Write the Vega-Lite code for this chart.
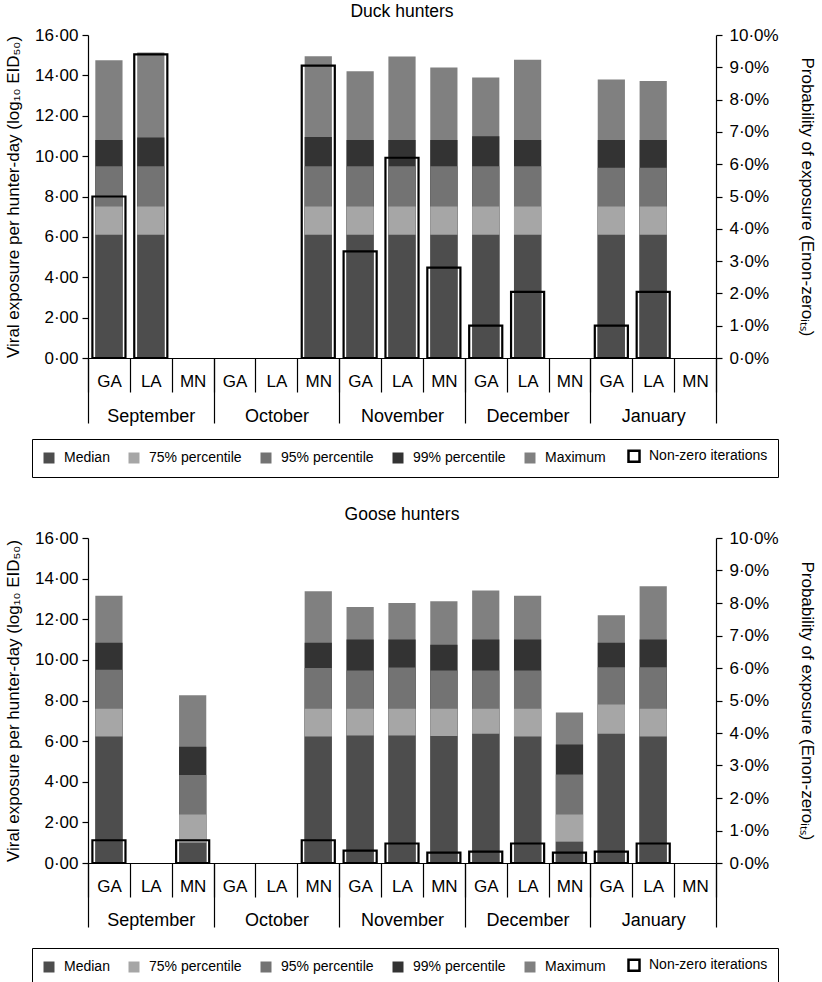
{
  "$schema": "https://vega.github.io/schema/vega-lite/v6.json",
  "padding": {"left": 4, "top": 2, "right": 4, "bottom": 0},
  "config": {
    "font": "Liberation Sans",
    "view": {"stroke": null},
    "axis": {"domainColor": "black", "tickColor": "black", "labelColor": "black", "titleColor": "black", "grid": false, "titleFontWeight": "normal", "domainWidth": 1.2, "tickWidth": 1.2},
    "title": {"fontWeight": "normal", "fontSize": 17.5, "color": "black"},
    "concat": {"spacing": 27}
  },
  "datasets": {
    "months": [{"month": "September"}, {"month": "October"}, {"month": "November"}, {"month": "December"}, {"month": "January"}],
    "duck": [
      {"slot": "September|GA", "Median": 6.1, "75% percentile": 7.5, "95% percentile": 9.5, "99% percentile": 10.8, "Maximum": 14.75, "nz": 5.0},
      {"slot": "September|LA", "Median": 6.1, "75% percentile": 7.5, "95% percentile": 9.5, "99% percentile": 10.92, "Maximum": 15.13, "nz": 9.4},
      {"slot": "October|MN", "Median": 6.1, "75% percentile": 7.5, "95% percentile": 9.5, "99% percentile": 10.95, "Maximum": 14.95, "nz": 9.05},
      {"slot": "November|GA", "Median": 6.1, "75% percentile": 7.5, "95% percentile": 9.5, "99% percentile": 10.8, "Maximum": 14.2, "nz": 3.3},
      {"slot": "November|LA", "Median": 6.1, "75% percentile": 7.5, "95% percentile": 9.5, "99% percentile": 10.8, "Maximum": 14.93, "nz": 6.2},
      {"slot": "November|MN", "Median": 6.1, "75% percentile": 7.5, "95% percentile": 9.5, "99% percentile": 10.8, "Maximum": 14.39, "nz": 2.8},
      {"slot": "December|GA", "Median": 6.1, "75% percentile": 7.5, "95% percentile": 9.5, "99% percentile": 10.98, "Maximum": 13.9, "nz": 1.0},
      {"slot": "December|LA", "Median": 6.1, "75% percentile": 7.5, "95% percentile": 9.5, "99% percentile": 10.8, "Maximum": 14.77, "nz": 2.05},
      {"slot": "January|GA", "Median": 6.1, "75% percentile": 7.5, "95% percentile": 9.42, "99% percentile": 10.8, "Maximum": 13.8, "nz": 1.0},
      {"slot": "January|LA", "Median": 6.1, "75% percentile": 7.5, "95% percentile": 9.42, "99% percentile": 10.8, "Maximum": 13.72, "nz": 2.05}
    ],
    "goose": [
      {"slot": "September|GA", "Median": 6.23, "75% percentile": 7.59, "95% percentile": 9.52, "99% percentile": 10.84, "Maximum": 13.16, "nz": 0.7},
      {"slot": "September|MN", "Median": 1.0, "75% percentile": 2.39, "95% percentile": 4.33, "99% percentile": 5.72, "Maximum": 8.26, "nz": 0.7},
      {"slot": "October|MN", "Median": 6.23, "75% percentile": 7.59, "95% percentile": 9.6, "99% percentile": 10.84, "Maximum": 13.38, "nz": 0.7},
      {"slot": "November|GA", "Median": 6.28, "75% percentile": 7.59, "95% percentile": 9.48, "99% percentile": 11.0, "Maximum": 12.6, "nz": 0.38},
      {"slot": "November|LA", "Median": 6.28, "75% percentile": 7.59, "95% percentile": 9.62, "99% percentile": 11.0, "Maximum": 12.8, "nz": 0.6},
      {"slot": "November|MN", "Median": 6.25, "75% percentile": 7.59, "95% percentile": 9.48, "99% percentile": 10.75, "Maximum": 12.89, "nz": 0.32},
      {"slot": "December|GA", "Median": 6.36, "75% percentile": 7.59, "95% percentile": 9.48, "99% percentile": 11.0, "Maximum": 13.41, "nz": 0.35},
      {"slot": "December|LA", "Median": 6.23, "75% percentile": 7.59, "95% percentile": 9.48, "99% percentile": 11.0, "Maximum": 13.16, "nz": 0.6},
      {"slot": "December|MN", "Median": 1.05, "75% percentile": 2.39, "95% percentile": 4.36, "99% percentile": 5.84, "Maximum": 7.41, "nz": 0.32},
      {"slot": "January|GA", "Median": 6.36, "75% percentile": 7.8, "95% percentile": 9.64, "99% percentile": 10.84, "Maximum": 12.2, "nz": 0.35},
      {"slot": "January|LA", "Median": 6.23, "75% percentile": 7.59, "95% percentile": 9.64, "99% percentile": 11.0, "Maximum": 13.62, "nz": 0.6}
    ]
  },
  "vconcat": [
    {
      "title": {"text": "Duck hunters", "offset": 6},
      "width": 628,
      "height": 323,
      "layer": [
        {
          "data": {"name": "months"},
          "mark": {"type": "text", "text": " "},
          "encoding": {
            "x": {"field": "month", "type": "nominal", "sort": null,
              "scale": {"domain": ["September", "October", "November", "December", "January"], "paddingInner": 0, "paddingOuter": 0},
              "axis": {"orient": "bottom", "title": null, "domain": false, "tickBand": "extent", "tickSize": 65, "labelPadding": -16, "labelAngle": 0, "labelFontSize": 18}}
          }
        },
        {
          "data": {"name": "duck"},
          "transform": [{"fold": ["Maximum", "99% percentile", "95% percentile", "75% percentile", "Median"], "as": ["level", "value"]}],
          "mark": {"type": "bar", "width": {"band": 0.65}},
          "encoding": {
            "x": {"field": "slot", "type": "nominal", "sort": null,
              "scale": {"domain": ["September|GA", "September|LA", "September|MN", "October|GA", "October|LA", "October|MN", "November|GA", "November|LA", "November|MN", "December|GA", "December|LA", "December|MN", "January|GA", "January|LA", "January|MN"], "paddingInner": 0, "paddingOuter": 0},
              "axis": {"orient": "bottom", "title": null, "labelExpr": "split(datum.label, '|')[1]", "tickBand": "extent", "tickSize": 34, "labelPadding": -19, "labelAngle": 0, "labelFontSize": 17}},
            "y": {"field": "value", "type": "quantitative", "stack": null, "scale": {"domain": [0, 16]},
              "axis": {"orient": "left", "values": [0, 2, 4, 6, 8, 10, 12, 14, 16], "labelExpr": "replace(format(datum.value, '.2f'), '.', '·')", "tickSize": 6, "labelPadding": 4, "labelFontSize": 17, "title": "Viral exposure per hunter-day (log₁₀ EID₅₀)", "titleFontSize": 17, "titlePadding": 12}},
            "color": {"field": "level", "type": "nominal",
              "scale": {"domain": ["Median", "75% percentile", "95% percentile", "99% percentile", "Maximum", "Non-zero iterations"], "range": ["#4d4d4d", "#a6a6a6", "#737373", "#333333", "#808080", "#ffffff"]},
              "legend": {"orient": "none", "legendX": -56, "legendY": 404, "direction": "horizontal", "columns": 6, "title": null, "symbolType": "square", "symbolSize": 121, "labelFontSize": 14, "labelColor": "black", "labelOffset": 8, "columnPadding": 17, "padding": 10, "strokeColor": "black",
                "encode": {"symbols": {"update": {"stroke": {"signal": "datum.label === 'Non-zero iterations' ? 'black' : 'transparent'"}, "strokeWidth": {"signal": "datum.label === 'Non-zero iterations' ? 2.5 : 0"}}}}}}
          }
        },
        {
          "data": {"name": "duck"},
          "mark": {"type": "bar", "filled": false, "stroke": "black", "strokeWidth": 2.2, "width": {"band": 0.79}},
          "encoding": {
            "x": {"field": "slot", "type": "nominal", "sort": null,
              "scale": {"domain": ["September|GA", "September|LA", "September|MN", "October|GA", "October|LA", "October|MN", "November|GA", "November|LA", "November|MN", "December|GA", "December|LA", "December|MN", "January|GA", "January|LA", "January|MN"], "paddingInner": 0, "paddingOuter": 0},
              "axis": null},
            "y": {"field": "nz", "type": "quantitative", "scale": {"domain": [0, 10]},
              "axis": {"orient": "right", "values": [0, 1, 2, 3, 4, 5, 6, 7, 8, 9, 10], "labelExpr": "replace(format(datum.value, '.1f'), '.', '·') + '%'", "tickSize": 6, "labelPadding": 7, "labelFontSize": 17, "title": "Probability of exposure (Enon-zeroᵢₜₛ)", "titleFontSize": 17, "titlePadding": 19}}
          }
        }
      ],
      "resolve": {"scale": {"x": "independent", "y": "independent"}, "axis": {"x": "independent", "y": "independent"}}
    },
    {
      "title": {"text": "Goose hunters", "offset": 6},
      "width": 628,
      "height": 325,
      "layer": [
        {
          "data": {"name": "months"},
          "mark": {"type": "text", "text": " "},
          "encoding": {
            "x": {"field": "month", "type": "nominal", "sort": null,
              "scale": {"domain": ["September", "October", "November", "December", "January"], "paddingInner": 0, "paddingOuter": 0},
              "axis": {"orient": "bottom", "title": null, "domain": false, "tickBand": "extent", "tickSize": 64, "labelPadding": -16, "labelAngle": 0, "labelFontSize": 18}}
          }
        },
        {
          "data": {"name": "goose"},
          "transform": [{"fold": ["Maximum", "99% percentile", "95% percentile", "75% percentile", "Median"], "as": ["level", "value"]}],
          "mark": {"type": "bar", "width": {"band": 0.65}},
          "encoding": {
            "x": {"field": "slot", "type": "nominal", "sort": null,
              "scale": {"domain": ["September|GA", "September|LA", "September|MN", "October|GA", "October|LA", "October|MN", "November|GA", "November|LA", "November|MN", "December|GA", "December|LA", "December|MN", "January|GA", "January|LA", "January|MN"], "paddingInner": 0, "paddingOuter": 0},
              "axis": {"orient": "bottom", "title": null, "labelExpr": "split(datum.label, '|')[1]", "tickBand": "extent", "tickSize": 34, "labelPadding": -19, "labelAngle": 0, "labelFontSize": 17}},
            "y": {"field": "value", "type": "quantitative", "stack": null, "scale": {"domain": [0, 16]},
              "axis": {"orient": "left", "values": [0, 2, 4, 6, 8, 10, 12, 14, 16], "labelExpr": "replace(format(datum.value, '.2f'), '.', '·')", "tickSize": 6, "labelPadding": 4, "labelFontSize": 17, "title": "Viral exposure per hunter-day (log₁₀ EID₅₀)", "titleFontSize": 17, "titlePadding": 12}},
            "color": {"field": "level", "type": "nominal",
              "scale": {"domain": ["Median", "75% percentile", "95% percentile", "99% percentile", "Maximum", "Non-zero iterations"], "range": ["#4d4d4d", "#a6a6a6", "#737373", "#333333", "#808080", "#ffffff"]},
              "legend": {"orient": "none", "legendX": -56, "legendY": 410, "direction": "horizontal", "columns": 6, "title": null, "symbolType": "square", "symbolSize": 121, "labelFontSize": 14, "labelColor": "black", "labelOffset": 8, "columnPadding": 17, "padding": 10, "strokeColor": "black",
                "encode": {"symbols": {"update": {"stroke": {"signal": "datum.label === 'Non-zero iterations' ? 'black' : 'transparent'"}, "strokeWidth": {"signal": "datum.label === 'Non-zero iterations' ? 2.5 : 0"}}}}}}
          }
        },
        {
          "data": {"name": "goose"},
          "mark": {"type": "bar", "filled": false, "stroke": "black", "strokeWidth": 2.2, "width": {"band": 0.79}},
          "encoding": {
            "x": {"field": "slot", "type": "nominal", "sort": null,
              "scale": {"domain": ["September|GA", "September|LA", "September|MN", "October|GA", "October|LA", "October|MN", "November|GA", "November|LA", "November|MN", "December|GA", "December|LA", "December|MN", "January|GA", "January|LA", "January|MN"], "paddingInner": 0, "paddingOuter": 0},
              "axis": null},
            "y": {"field": "nz", "type": "quantitative", "scale": {"domain": [0, 10]},
              "axis": {"orient": "right", "values": [0, 1, 2, 3, 4, 5, 6, 7, 8, 9, 10], "labelExpr": "replace(format(datum.value, '.1f'), '.', '·') + '%'", "tickSize": 6, "labelPadding": 7, "labelFontSize": 17, "title": "Probability of exposure (Enon-zeroᵢₜₛ)", "titleFontSize": 17, "titlePadding": 19}}
          }
        }
      ],
      "resolve": {"scale": {"x": "independent", "y": "independent"}, "axis": {"x": "independent", "y": "independent"}}
    }
  ],
  "resolve": {"scale": {"color": "independent"}, "legend": {"color": "independent"}}
}
